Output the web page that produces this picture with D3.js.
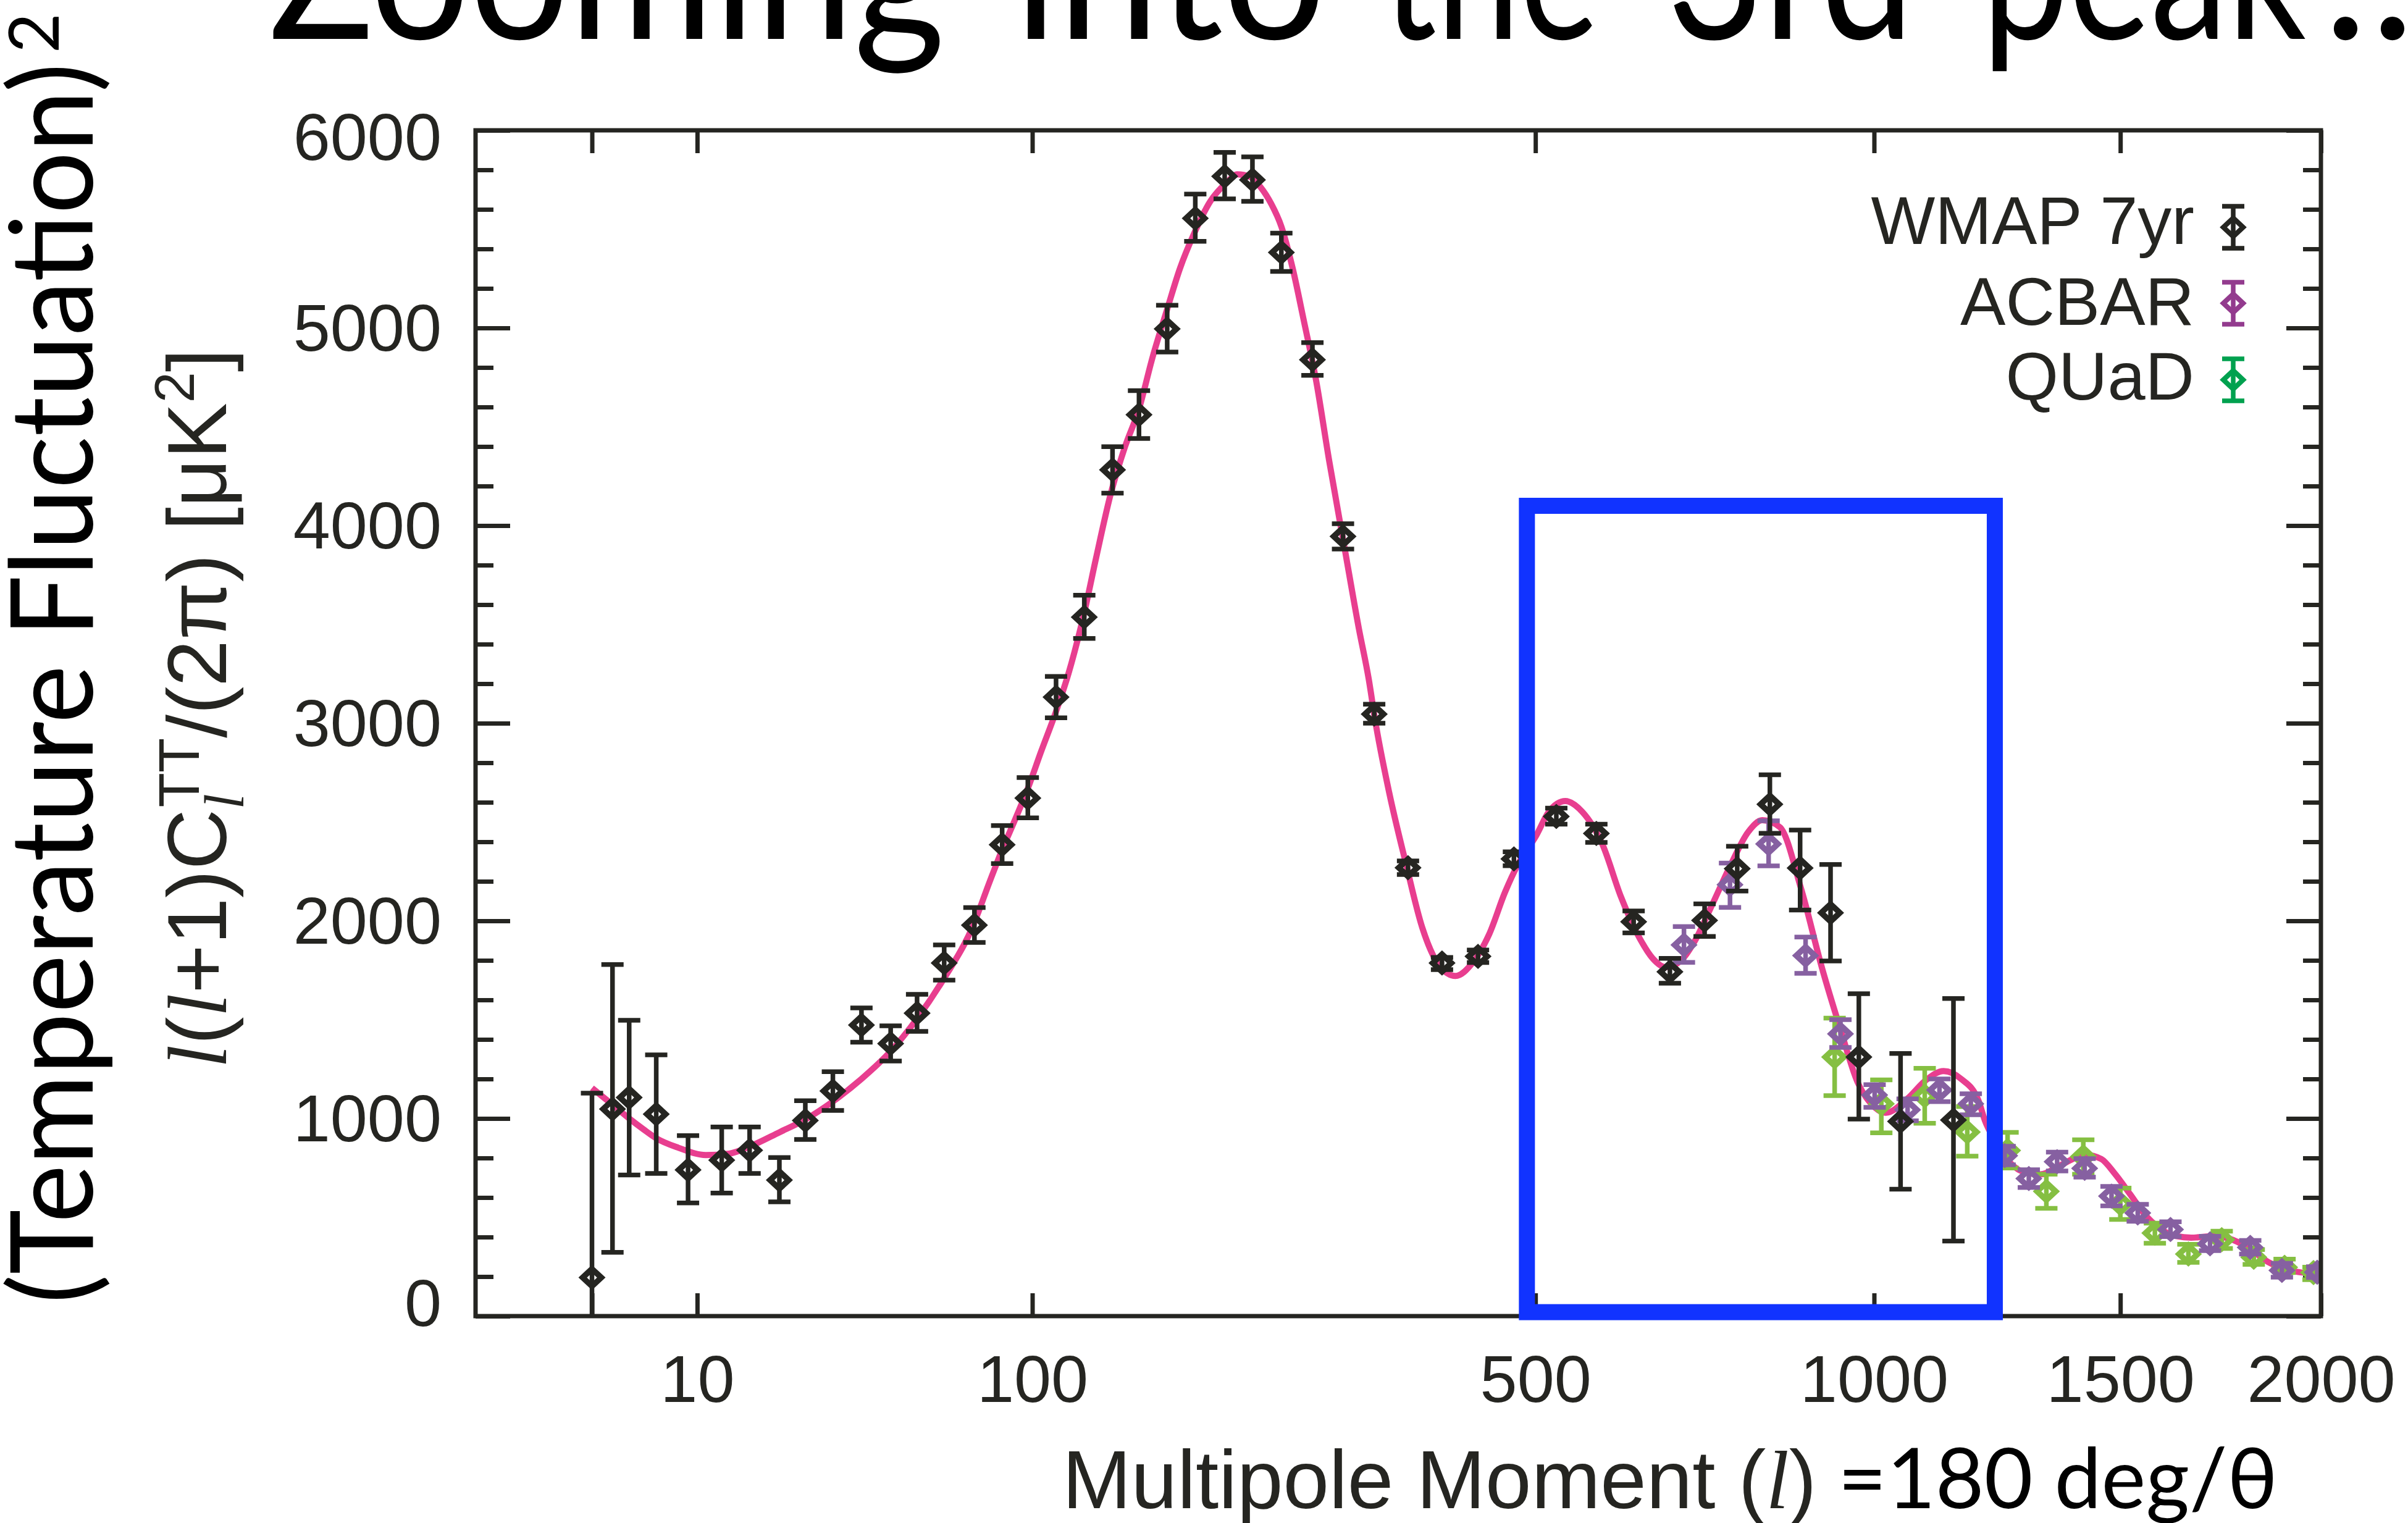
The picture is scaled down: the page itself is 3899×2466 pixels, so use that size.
<!DOCTYPE html>
<html>
<head>
<meta charset="utf-8">
<script src="https://cdn.jsdelivr.net/npm/d3@7"></script>
<style>
  html, body { margin: 0; padding: 0; background: #ffffff; }
  svg { display: block; }
</style>
</head>
<body>
<svg id="chart" width="3899" height="2466"></svg>
<script>
// ---------------- DATA ----------------
const xTickValues = [2, 10, 100, 500, 1000, 1500, 2000];
const xTickLabels = ["", "10", "100", "500", "1000", "1500", "2000"];
const yMajorTicks = [0, 1000, 2000, 3000, 4000, 5000, 6000];
const yMinorTicks = [200,400,600,800,1200,1400,1600,1800,2200,2400,2600,2800,3200,3400,3600,3800,4200,4400,4600,4800,5200,5400,5600,5800];

// WMAP 7yr binned points: multipole, value, lower, upper
const wmapL  = [2, 3, 4, 6, 9, 13, 17, 22, 27, 33, 40, 48, 56, 65, 76, 87, 98, 111, 125, 140, 155, 172, 190, 210, 230, 252, 277, 303, 331, 363, 397, 435, 475, 525, 575, 624, 674, 724, 773, 824, 873, 924, 973, 1048, 1148];
const wmapV  = [195, 1048, 1106, 1022, 740, 789, 839, 688, 990, 1139, 1473, 1379, 1533, 1787, 1978, 2385, 2621, 3132, 3537, 4282, 4561, 4995, 5555, 5767, 5749, 5382, 4839, 3945, 3046, 2269, 1787, 1820, 2313, 2528, 2442, 1995, 1742, 2002, 2264, 2590, 2267, 2041, 1311, 985, 992];
const wmapLo = [-400, 323, 714, 722, 573, 623, 722, 578, 894, 1041, 1386, 1291, 1441, 1700, 1891, 2290, 2521, 3027, 3429, 4164, 4441, 4878, 5438, 5653, 5641, 5286, 4760, 3881, 3000, 2234, 1753, 1789, 2279, 2489, 2397, 1939, 1684, 1921, 2151, 2443, 2055, 1797, 997, 642, 380];
const wmapHi = [1128, 1779, 1497, 1322, 913, 957, 957, 802, 1090, 1237, 1559, 1469, 1628, 1878, 2067, 2482, 2725, 3237, 3648, 4399, 4683, 5115, 5677, 5888, 5866, 5480, 4926, 4009, 3096, 2303, 1815, 1852, 2349, 2570, 2489, 2050, 1810, 2086, 2377, 2739, 2459, 2285, 1631, 1329, 1607];

// ACBAR points
const acbarL  = [694, 762, 822, 882, 941, 1001, 1061, 1121, 1182, 1250, 1300, 1360, 1420, 1480, 1540, 1617, 1713, 1814, 1896, 1990];
const acbarV  = [1878, 2183, 2389, 1824, 1428, 1119, 1044, 1144, 1074, 812, 696, 781, 748, 607, 522, 438, 366, 348, 231, 222];
const acbarLo = [1790, 2068, 2278, 1734, 1359, 1056, 988, 1085, 1019, 766, 651, 734, 703, 558, 480, 402, 331, 314, 197, 195];
const acbarHi = [1971, 2292, 2506, 1918, 1500, 1171, 1099, 1200, 1125, 859, 741, 830, 797, 656, 566, 477, 404, 383, 267, 250];

// QUaD points
const quadL  = [931, 1013, 1093, 1175, 1256, 1337, 1417, 1500, 1580, 1660, 1742, 1823, 1903, 1980];
const quadV  = [1311, 1074, 1114, 931, 838, 631, 807, 569, 420, 314, 387, 298, 247, 220];
const quadLo = [1116, 927, 976, 809, 749, 545, 718, 489, 369, 272, 342, 262, 220, 184];
const quadHi = [1508, 1195, 1254, 1060, 930, 718, 892, 648, 470, 363, 430, 337, 288, 248];

// Best-fit model curve
const modelL = [2, 3, 4, 5, 6, 8, 11, 14, 17, 22, 27, 33, 40, 48, 56, 65, 75, 82, 87, 92, 98, 104, 111, 117, 125, 131, 139, 147, 155, 163, 172, 180, 189, 200, 211, 219, 228, 236, 244, 252, 261, 270, 280, 291, 304, 317, 326, 332, 345, 361, 377, 394, 411, 429, 447, 465, 480, 501, 516, 536, 557, 583, 607, 633, 650, 668, 690, 710, 735, 762, 790, 812, 840, 874, 910, 941, 971, 995, 1021, 1061, 1094, 1129, 1163, 1197, 1210, 1230, 1253, 1286, 1324, 1367, 1422, 1457, 1487, 1522, 1557, 1587, 1630, 1667, 1723, 1761, 1808, 1860, 1914, 2000];
const modelV = [1154, 1070, 1000, 945, 900, 852, 815, 822, 858, 930, 995, 1086, 1200, 1340, 1505, 1710, 1960, 2200, 2360, 2500, 2670, 2857, 3060, 3250, 3560, 3830, 4160, 4400, 4590, 4850, 5095, 5300, 5474, 5640, 5733, 5777, 5765, 5713, 5630, 5513, 5300, 5035, 4736, 4330, 3899, 3480, 3222, 3010, 2648, 2289, 1966, 1775, 1721, 1787, 1930, 2146, 2289, 2432, 2552, 2606, 2552, 2385, 2122, 1906, 1810, 1765, 1800, 1900, 2080, 2276, 2450, 2509, 2474, 2169, 1756, 1451, 1182, 1074, 1029, 1101, 1191, 1240, 1200, 1092, 990, 890, 800, 732, 717, 763, 816, 795, 722, 618, 513, 451, 405, 397, 405, 392, 347, 274, 232, 212];

// Highlight box (multipole range, value range)
const zoomBoxL = [490, 1230];
const zoomBoxV = [20, 4100];

const legendNames  = ["WMAP 7yr", "ACBAR", "QUaD"];
const legendColors = ["#252521", "#933b8e", "#00a14f"];

const titleWords = ["Zooming", "into", "the", "3rd", "peak", "..."];

// ---------------- STYLE / LAYOUT ----------------
const ink = "#252521";
const pink = "#e83e8f";
const blue = "#1133ff";
const acbarColor = "#8660a1";
const quadColor = "#85bf42";
const sansFont = "'Liberation Sans', Arial, Helvetica, sans-serif";
const gillFont = "Lato, 'Open Sans', sans-serif";
const serifFont = "'Liberation Serif', 'DejaVu Serif', serif";

const plot = { left: 770, right: 3758, top: 211, bottom: 2131 };

const svg = d3.select("#chart");

const x = d3.scalePow().exponent(0.4).domain([0, 2000]).range([plot.left, plot.right]);
const y = d3.scaleLinear().domain([0, 6000]).range([plot.bottom, plot.top]);

svg.append("defs").append("clipPath").attr("id", "plotClip")
  .append("rect")
  .attr("x", plot.left).attr("y", plot.top)
  .attr("width", plot.right - plot.left).attr("height", plot.bottom - plot.top);

function styleAxis(g) {
  g.select(".domain").remove();
  g.selectAll(".tick line").attr("stroke", ink).attr("stroke-width", 7);
  g.selectAll(".tick text").attr("fill", ink).attr("font-family", sansFont).attr("font-size", 108);
}

// bottom axis
svg.append("g").attr("transform", `translate(0,${plot.bottom})`)
  .call(d3.axisBottom(x).tickValues(xTickValues).tickFormat((d, i) => xTickLabels[i]).tickSize(-37).tickPadding(62))
  .call(styleAxis);
// top axis
svg.append("g").attr("transform", `translate(0,${plot.top})`)
  .call(d3.axisTop(x).tickValues(xTickValues).tickFormat("").tickSize(-37))
  .call(styleAxis);
// left axis
const leftAxis = svg.append("g").attr("transform", `translate(${plot.left},0)`)
  .call(d3.axisLeft(y).tickValues(yMajorTicks).tickFormat(d3.format("d")).tickSize(-56).tickPadding(55))
  .call(styleAxis);
leftAxis.selectAll(".tick text").attr("dy", d => d === 6000 ? "0.44em" : (d === 0 ? "0.14em" : "0.34em"));
svg.append("g").attr("transform", `translate(${plot.left},0)`)
  .call(d3.axisLeft(y).tickValues(yMinorTicks).tickFormat("").tickSize(-29))
  .call(styleAxis);
// right axis
svg.append("g").attr("transform", `translate(${plot.right},0)`)
  .call(d3.axisRight(y).tickValues(yMajorTicks).tickFormat("").tickSize(-56))
  .call(styleAxis);
svg.append("g").attr("transform", `translate(${plot.right},0)`)
  .call(d3.axisRight(y).tickValues(yMinorTicks).tickFormat("").tickSize(-29))
  .call(styleAxis);

// model curve
const dataLayer = svg.append("g").attr("clip-path", "url(#plotClip)");
const line = d3.line().x(d => x(d[0])).y(d => y(d[1])).curve(d3.curveMonotoneX);
dataLayer.append("path")
  .datum(modelL.map((l, i) => [l, modelV[i]]))
  .attr("d", line)
  .attr("fill", "none")
  .attr("stroke", pink)
  .attr("stroke-width", 10)
  .attr("stroke-linejoin", "round");

// error bar series
function errorBarPath(cx, yLo, yHi, cap) {
  return `M${cx},${yLo}V${yHi}M${cx - cap},${yLo}H${cx + cap}M${cx - cap},${yHi}H${cx + cap}`;
}
function diamondPath(cx, cy, hw, hh) {
  return `M${cx},${cy - hh}L${cx + hw},${cy}L${cx},${cy + hh}L${cx - hw},${cy}Z`;
}
function drawSeries(L, V, Lo, Hi, color) {
  const g = dataLayer.append("g")
    .attr("stroke", color).attr("fill", "none")
    .attr("stroke-linecap", "butt");
  const idx = d3.range(L.length);
  g.selectAll("path.bar").data(idx).join("path").attr("class", "bar")
    .attr("stroke-width", 7.5)
    .attr("d", i => errorBarPath(x(L[i]), y(Lo[i]), y(Hi[i]), 18));
  g.selectAll("path.mark").data(idx).join("path").attr("class", "mark")
    .attr("stroke-width", 9.5)
    .attr("stroke-linejoin", "miter")
    .attr("d", i => diamondPath(x(L[i]), y(V[i]), 15, 14));
}
drawSeries(quadL, quadV, quadLo, quadHi, quadColor);
drawSeries(acbarL, acbarV, acbarLo, acbarHi, acbarColor);
drawSeries(wmapL, wmapV, wmapLo, wmapHi, ink);

// frame
svg.append("rect")
  .attr("x", plot.left).attr("y", plot.top)
  .attr("width", plot.right - plot.left).attr("height", plot.bottom - plot.top)
  .attr("fill", "none").attr("stroke", ink).attr("stroke-width", 7);

// highlight box
svg.append("rect")
  .attr("x", x(zoomBoxL[0])).attr("y", y(zoomBoxV[1]))
  .attr("width", x(zoomBoxL[1]) - x(zoomBoxL[0]))
  .attr("height", y(zoomBoxV[0]) - y(zoomBoxV[1]))
  .attr("fill", "none").attr("stroke", blue).attr("stroke-width", 26);

// legend
const legendRowY = [368, 491, 615];
const legendTextY = [395, 526, 647];
const legend = svg.append("g");
legendNames.forEach((name, i) => {
  legend.append("text")
    .attr("x", 3553).attr("y", legendTextY[i])
    .attr("text-anchor", "end")
    .attr("font-family", sansFont).attr("font-size", 110)
    .attr("fill", ink).text(name);
  const cx = 3616, cy = legendRowY[i];
  legend.append("path")
    .attr("d", errorBarPath(cx, cy + 34, cy - 34, 18))
    .attr("stroke", legendColors[i]).attr("stroke-width", 7.5).attr("fill", "none");
  legend.append("path")
    .attr("d", diamondPath(cx, cy, 16, 15))
    .attr("stroke", legendColors[i]).attr("stroke-width", 8).attr("fill", "none");
});

// title (cut off at top, as in the original slide)
const titleX = [435, 1642, 2239, 2699, 3209, 3762];
const titleW = [1095, 505, 350, 400, 525, 0];
titleWords.forEach((w, i) => {
  const t = svg.append("text")
    .attr("x", titleX[i]).attr("y", 63)
    .attr("font-family", gillFont).attr("font-size", 305)
    .attr("fill", "#000")
    .text(w);
  if (titleW[i] > 0) t.attr("textLength", titleW[i]).attr("lengthAdjust", "spacingAndGlyphs");
  else t.attr("letter-spacing", 4);
});

// outer y label
svg.append("text")
  .attr("transform", "translate(150,2111) rotate(-90)")
  .attr("font-family", gillFont).attr("font-size", 186)
  .attr("fill", "#000")
  .attr("textLength", 2009).attr("lengthAdjust", "spacingAndGlyphs")
  .text("(Temperature Fluctuation)");
svg.append("text")
  .attr("transform", "translate(95,86) rotate(-90)")
  .attr("font-family", gillFont).attr("font-size", 112)
  .attr("fill", "#000")
  .text("2");

// inner y label
const yl = svg.append("text")
  .attr("transform", "translate(366,1147) rotate(-90)")
  .attr("text-anchor", "middle")
  .attr("font-family", sansFont).attr("font-size", 136)
  .attr("fill", ink);
yl.append("tspan").attr("font-family", serifFont).attr("font-style", "italic").text("l");
yl.append("tspan").text("(");
yl.append("tspan").attr("font-family", serifFont).attr("font-style", "italic").text("l");
yl.append("tspan").text("+1)C");
yl.append("tspan").attr("font-family", serifFont).attr("font-style", "italic").attr("font-size", 90).attr("dy", 28).text("l");
yl.append("tspan").attr("font-size", 92).attr("dx", -22).attr("dy", -72).text("TT");
yl.append("tspan").attr("dy", 44).text("/(2π) [μK");
yl.append("tspan").attr("font-size", 90).attr("dy", -52).text("2");
yl.append("tspan").attr("dy", 52).text("]");

// x label
const xl = svg.append("text")
  .attr("x", 1720).attr("y", 2442)
  .attr("font-family", sansFont).attr("font-size", 134)
  .attr("fill", ink);
xl.append("tspan").text("Multipole Moment (");
xl.append("tspan").attr("font-family", serifFont).attr("font-style", "italic").text("l");
xl.append("tspan").text(")");
xl.append("tspan").attr("font-family", gillFont).attr("font-size", 136).attr("fill", "#000").text(" =180 deg/θ");
</script>
</body>
</html>
